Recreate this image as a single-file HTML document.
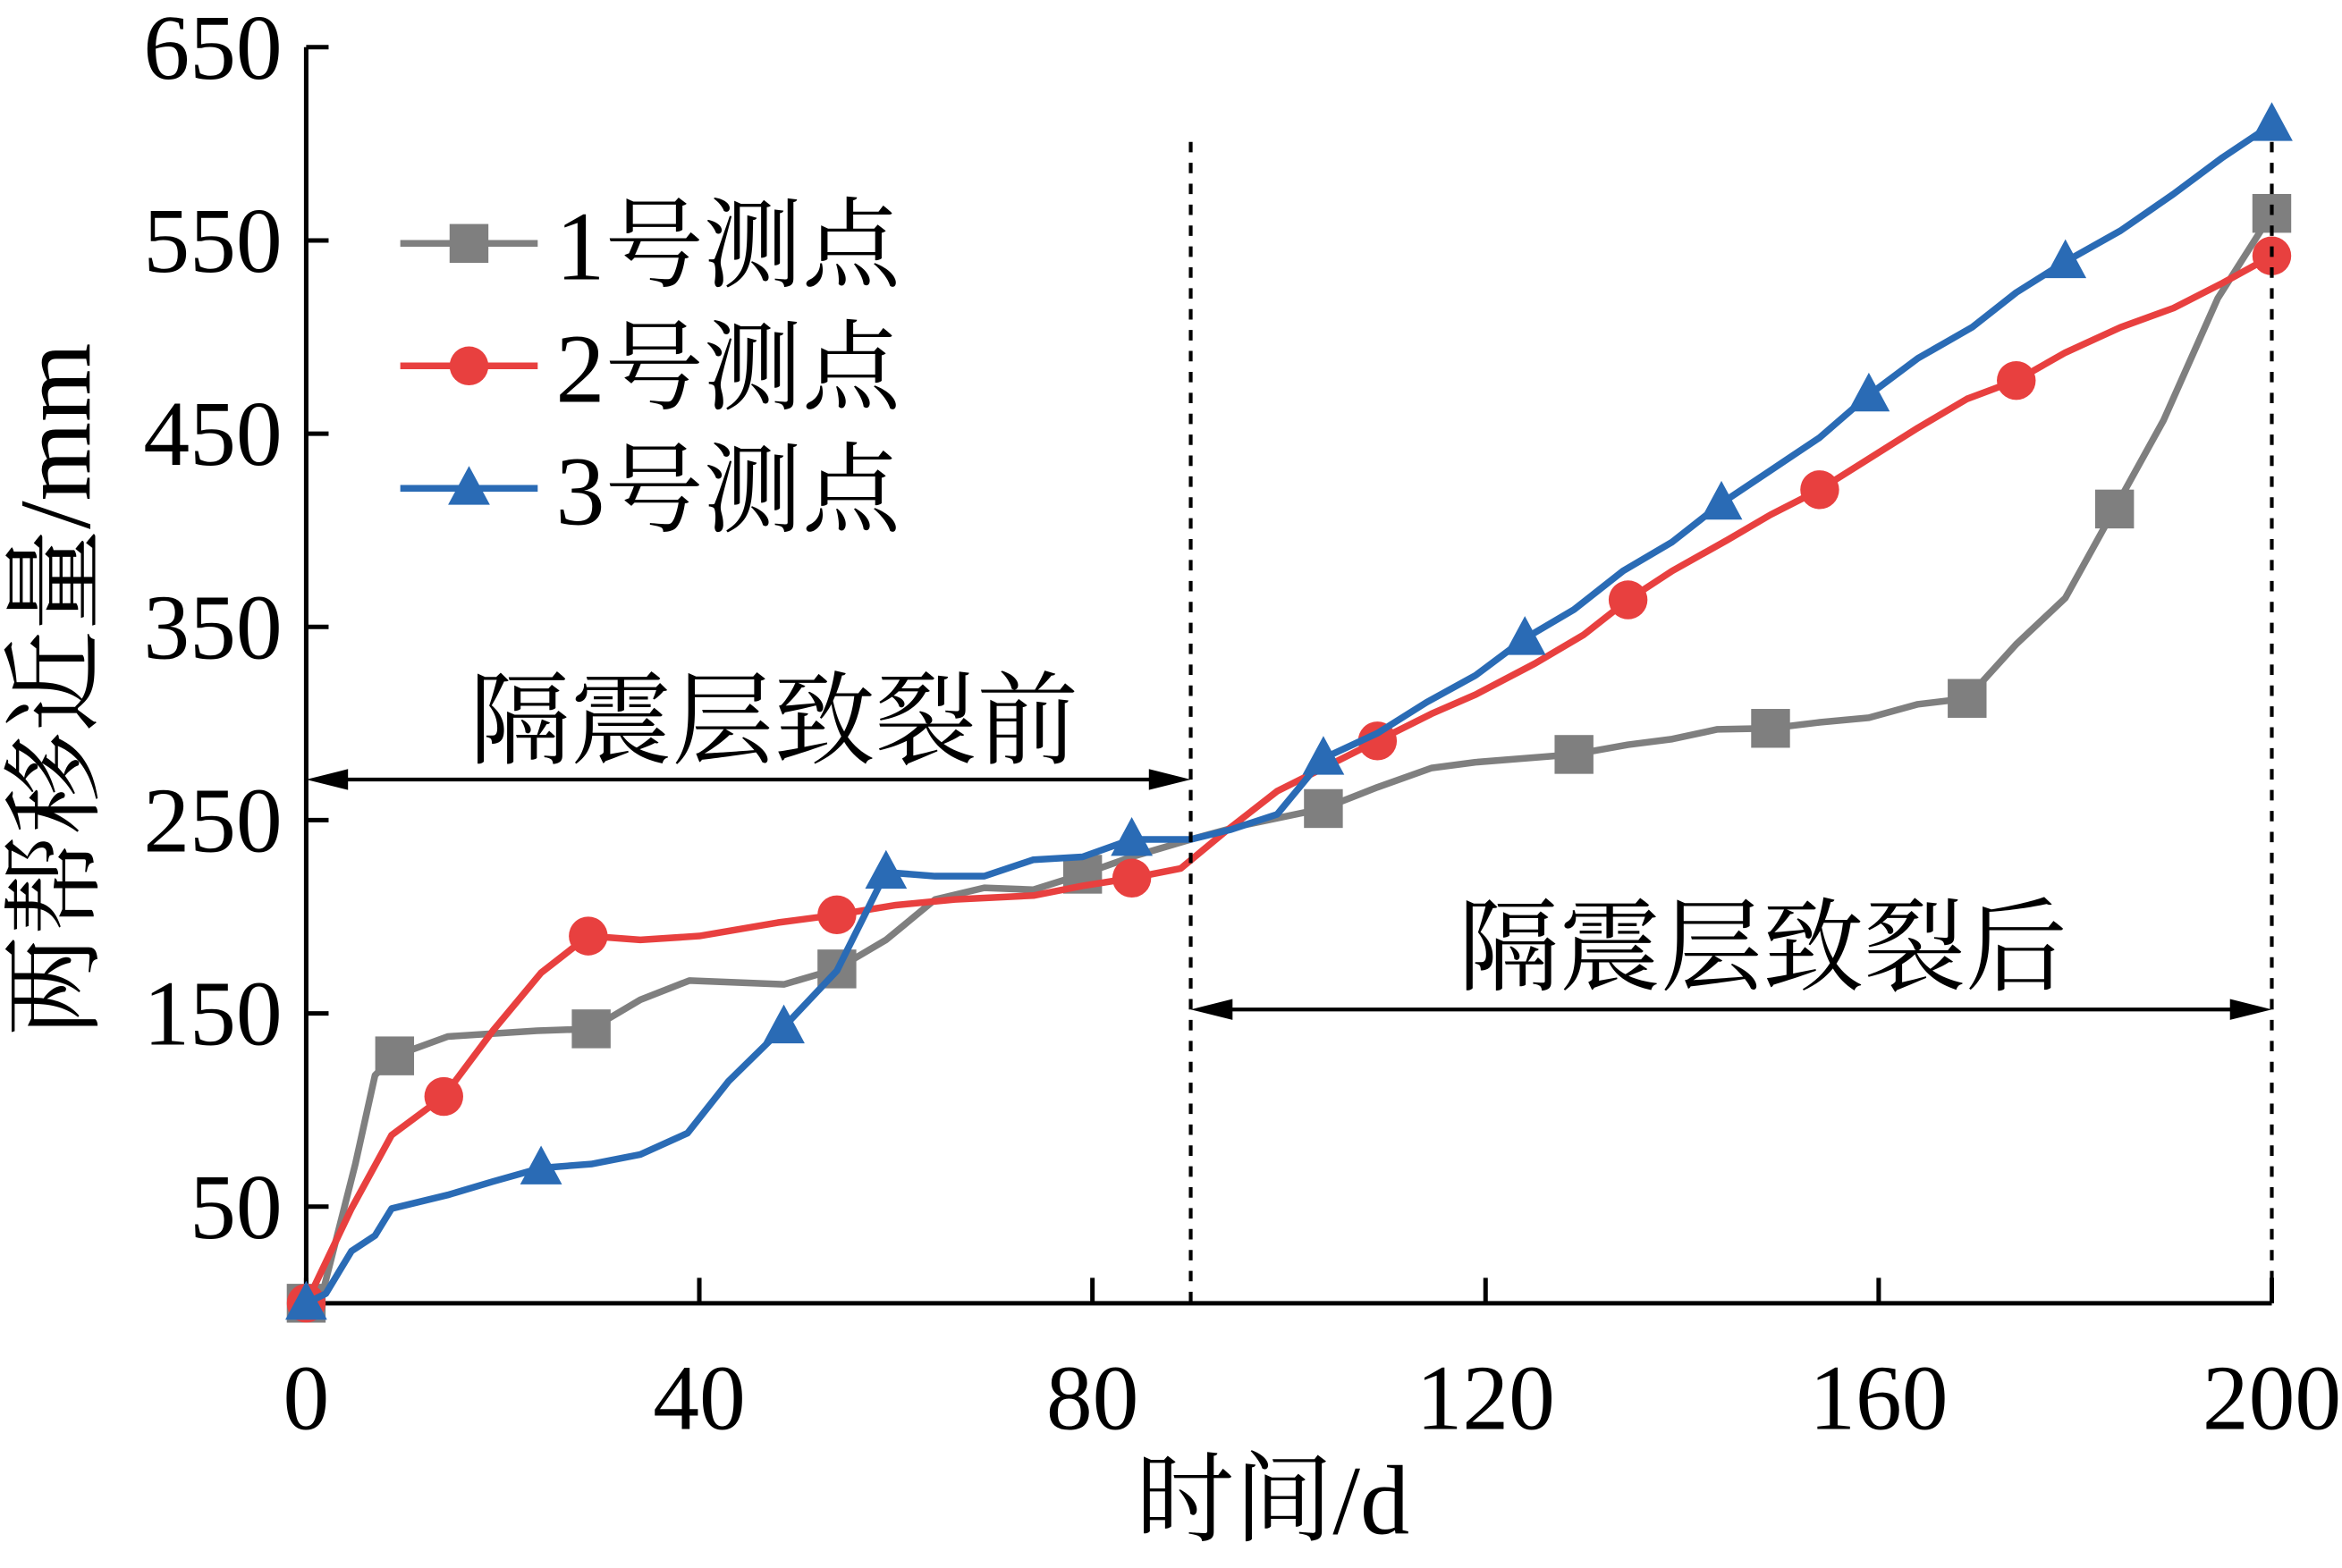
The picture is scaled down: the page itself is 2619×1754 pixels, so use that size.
<!DOCTYPE html>
<html><head><meta charset="utf-8">
<style>
html,body{margin:0;padding:0;background:#fff;}
svg{display:block;font-family:"Liberation Serif","Noto Serif CJK SC",serif;}
</style></head>
<body>
<svg id="chart" width="2619" height="1754" viewBox="0 0 1568 1050" preserveAspectRatio="none" xmlns="http://www.w3.org/2000/svg">
<g id="axes"></g>
<g id="series"></g>
<g id="annot"></g>
</svg>
<script>
const xTicks=[0,40,80,120,160,200];
const yTicks=[50,150,250,350,450,550,650];
const s1Days=[0,1.5,5,7,9,14.4,23.5,29,34,39,48.6,54,59,64,69,74,79,84,90,95,103.5,109,114.5,119,129,134.5,139,143.6,149,154,159,164,169,174,179,184,189,194.5,200];
const s1Vals=[0,2,72,118,128,138,141,142,157,167,165,173,188,209,215,214,222,231,240,247,256,267,277,280,284,289,292,297,297.5,300.6,303,310,313,341,365,411,457,520,564];
const s1Marks=[0,4,7,11,16,20,24,28,32,35,38];
const s2Days=[0,4.6,8.7,14,19,23.9,28.7,34,40,48,54,60,66,74,79,84,89,93.5,98.8,103.5,109,114.5,119,125,130,134.5,139,144.6,149,154,159,164,169,174,179,184.6,190,195,200];
const s2Vals=[0,49,87,107,141,171,190,188,190,197,201,206,209,211,216,220,225,244,265,277,291,305,315,331,346,364,379,395,408,421,437,453,468,477.5,492,505,515,528,542];
const s2Marks=[0,3,6,10,15,20,25,29,33,38];
const s3Days=[0,2,4.6,7,8.7,14.4,19,23.9,29,34,38.8,43,48.6,54,59,64,69,74,79,84,90,94,98.8,103.5,109,114,119,124,129,134,139,144,149,154,159,164,169.5,174,179,184.6,190,195,200];
const s3Vals=[0,5,27,35,49,56,63,70,72,77,88,115,143,172,223,221,221,229.5,231,240,240,245,253,282,295,311,325,344,359,379,394,414,431,448,470,489,505,523,539,555,574,593,610];
const s3Marks=[0,7,12,14,19,23,27,31,34,38,42];
const legendLabels=["1号测点","2号测点","3号测点"];

const NS="http://www.w3.org/2000/svg";
const X0=205,X1=1521,Y0=872.7,PER=1.294;
function xs(v){return X0+(X1-X0)*v/200;}
function ys(v){return Y0-v*PER;}
function mk(tag,attrs,parent){const e=document.createElementNS(NS,tag);for(const k in attrs)e.setAttribute(k,attrs[k]);parent.appendChild(e);return e;}
const axes=document.getElementById('axes'),series=document.getElementById('series'),annot=document.getElementById('annot');

let e=mk('line',{x1:X0,y1:ys(650),x2:X0,y2:Y0,stroke:'#000','stroke-width':3},axes);


e=mk('line',{x1:X0,y1:Y0,x2:X1,y2:Y0,stroke:'#000','stroke-width':3},axes);


yTicks.forEach(v=>{
 let t=mk('line',{x1:X0,y1:ys(v),x2:X0+15,y2:ys(v),stroke:'#000','stroke-width':3},axes);
 
 
 let l=mk('text',{x:189,y:ys(v)+21,'text-anchor':'end','font-size':62},axes);
 l.textContent=v;
 
 
});
xTicks.forEach(v=>{
 let t=mk('line',{x1:xs(v),y1:Y0,x2:xs(v),y2:Y0-17,stroke:'#000','stroke-width':3},axes);
 
 
 let l=mk('text',{x:xs(v),y:957,'text-anchor':'middle','font-size':62},axes);
 l.textContent=v;
 
 
});
e=mk('text',{x:852,y:1027,'text-anchor':'middle','font-size':66},axes);
e.textContent='时间/d';


e=mk('text',{x:0,y:0,'text-anchor':'middle','font-size':68,transform:'translate(60,462) rotate(-90)'},axes);
e.textContent='两帮移近量/mm';



const colors=['#7f7f7f','#e8403f','#2a6bb5'];
const all=[[s1Days,s1Vals,s1Marks],[s2Days,s2Vals,s2Marks],[s3Days,s3Vals,s3Marks]];
function marker(type,cx,cy,col,parent){
 let m;
 if(type===0)m=mk('rect',{x:cx-13,y:cy-13,width:26,height:26,fill:col},parent);
 else if(type===1)m=mk('circle',{cx:cx,cy:cy,r:13,fill:col},parent);
 else m=mk('polygon',{points:`${cx},${cy-15} ${cx+14},${cy+11} ${cx-14},${cy+11}`,fill:col},parent);
 return m;
}
all.forEach((s,i)=>{
 const g=mk('g',{},series);
 
 
 const d=s[0].map((x,j)=>(j?'L':'M')+xs(x).toFixed(1)+','+ys(s[1][j]).toFixed(1)).join(' ');
 const p=mk('path',{d:d,fill:'none',stroke:colors[i],'stroke-width':4.5,'stroke-linejoin':'round'},g);
 
 
 s[2].forEach(j=>{
  const m=marker(i,xs(s[0][j]),ys(s[1][j]),colors[i],g);
  
  
 });
 const ly=163+i*82;
 const lg=mk('g',{},series);
 
 
 mk('line',{x1:268,y1:ly,x2:360,y2:ly,stroke:colors[i],'stroke-width':4.5},lg);
 marker(i,314,ly,colors[i],lg);
 const t=mk('text',{x:372,y:ly+24,'font-size':66},lg);
 t.textContent=legendLabels[i];
});

[90,200].forEach(v=>{
 const l=mk('line',{x1:xs(v),y1:95,x2:xs(v),y2:Y0,stroke:'#000','stroke-width':2.5,'stroke-dasharray':'7,7'},annot);
 
 
});
function arrow(xa,xb,y,name){
 const g=mk('g',{},annot);
 
 
 mk('line',{x1:xa+20,y1:y,x2:xb-20,y2:y,stroke:'#000','stroke-width':2.5},g);
 mk('polygon',{points:`${xa},${y} ${xa+28},${y-7} ${xa+28},${y+7}`,fill:'#000'},g);
 mk('polygon',{points:`${xb},${y} ${xb-28},${y-7} ${xb-28},${y+7}`,fill:'#000'},g);
}
arrow(xs(0),xs(90),522,'before-arrow');
arrow(xs(90),xs(200),676,'after-arrow');
e=mk('text',{x:518,y:506,'text-anchor':'middle','font-size':68},annot);
e.textContent='隔震层致裂前';


e=mk('text',{x:1180,y:658,'text-anchor':'middle','font-size':68},annot);
e.textContent='隔震层致裂后';


</script>
</body></html>
